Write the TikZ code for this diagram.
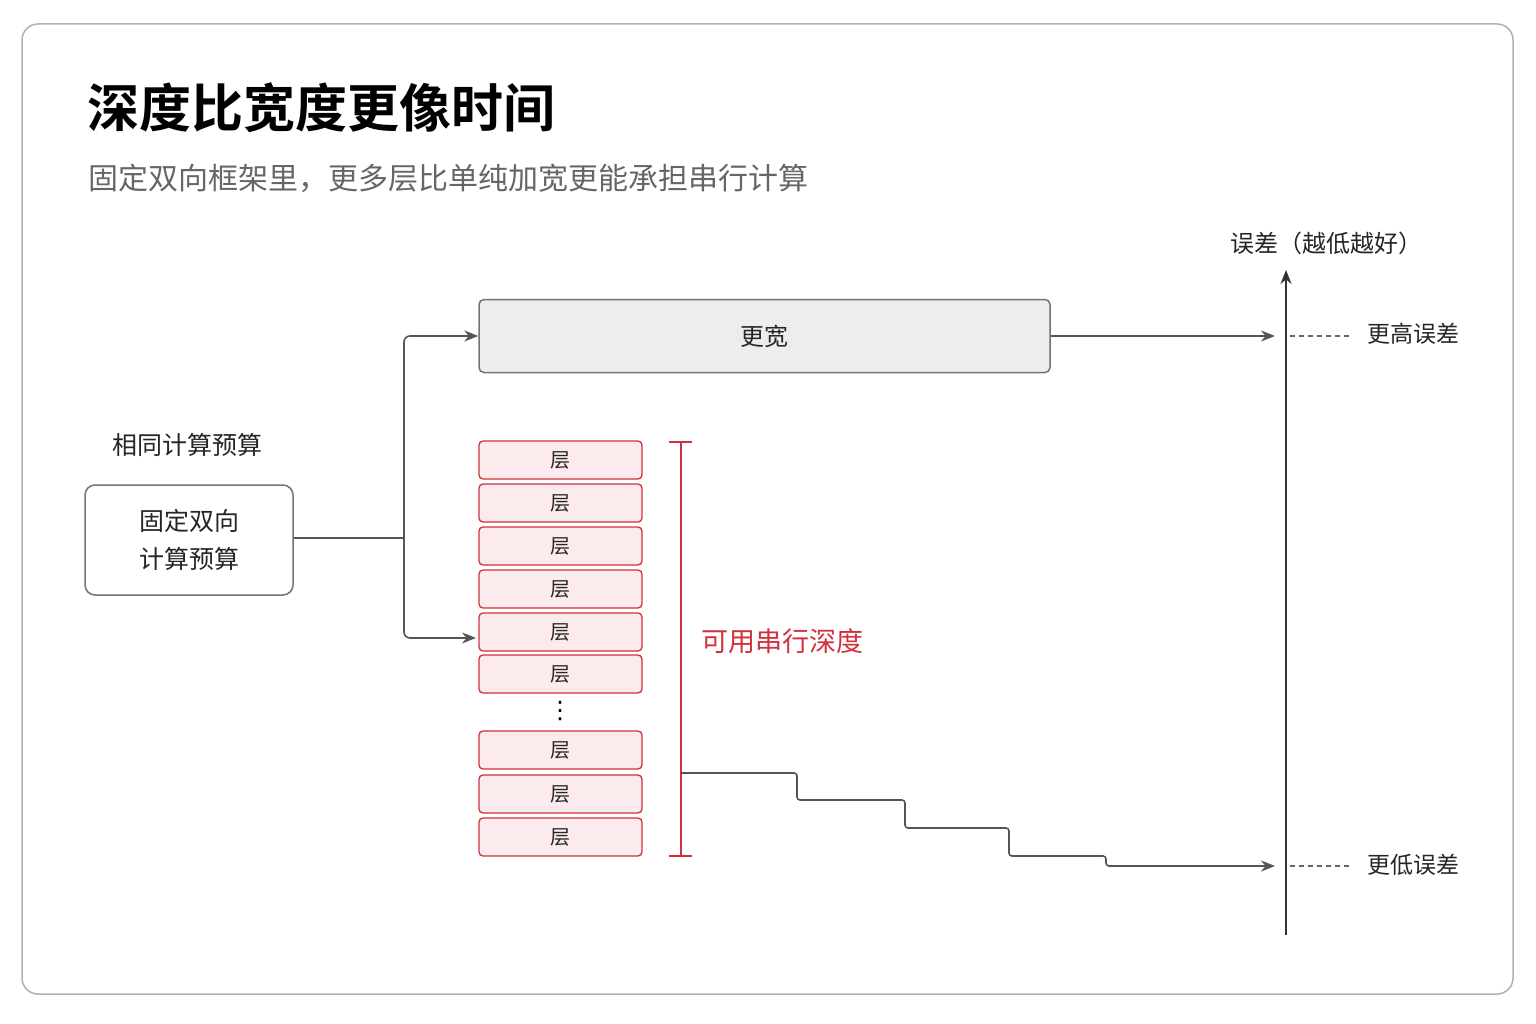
\documentclass[tikz,border=0pt]{standalone}
\usepackage{fontspec}
\setmainfont{Noto Sans CJK SC}
\newfontfamily\cjkb{Noto Sans CJK SC Bold}
\newfontfamily\dejavu{DejaVu Sans}
\usetikzlibrary{arrows.meta}
\definecolor{redc}{HTML}{D0313D}
\definecolor{redf}{HTML}{FBEBEC}
\definecolor{linec}{HTML}{555555}
\tikzset{
 x=1pt,y=-1pt,
 conn/.style={linec,line width=1.6pt,rounded corners=6pt},
 arr/.style={conn,-{Stealth[length=14pt,width=11pt]}},
 layer/.style={draw=redc,fill=redf,line width=1.3pt,rounded corners=4pt,minimum width=163pt,minimum height=38pt,font=\fontsize{20}{22}\selectfont,text=black!85},
 lbl/.style={font=\fontsize{24}{26}\selectfont,text=black!85},
}
\begin{document}
\begin{tikzpicture}
\useasboundingbox (0,0) rectangle (1536,1024);
\fill[white] (0,0) rectangle (1536,1024);
\draw[black!30,line width=1.5pt,fill=white,rounded corners=16pt] (22,24) rectangle (1513,994);
\node[anchor=west,font=\cjkb\fontsize{52}{56}\selectfont] (title) at (84,108) {深度比宽度更像时间};
\node[anchor=west,font=\fontsize{30}{34}\selectfont,text=black!60] (sub) at (85,178) {固定双向框架里，更多层比单纯加宽更能承担串行计算};
\node[lbl,font=\fontsize{25}{28}\selectfont] (same) at (187,445) {相同计算预算};
\node[draw=black!55,line width=1.5pt,rounded corners=10pt,minimum width=208pt,minimum height=110pt,align=center,lbl,font=\fontsize{25}{38}\selectfont] (fix) at (189,540) {固定双向\\计算预算};
\node[draw=black!55,fill=black!7,line width=1.5pt,rounded corners=5pt,minimum width=571pt,minimum height=73pt,lbl] (wide) at (764.5,336) {更宽};
\coordinate (split) at (404,538);
\draw[conn] (fix.east |- split) -- (split);
\draw[arr] (split) -- (404,336) -- (wide.west);
\foreach \n/\y in {1/460,2/503,3/546,4/589,5/632,6/674,7/750,8/794,9/837}
  \node[layer] (L\n) at (560.5,\y) {层};
\node[font=\dejavu\fontsize{24}{24}\selectfont] (dots) at (560,711) {⋮};
\draw[arr] (split) -- (404,638) -- (476,638);
\draw[redc,line width=1.6pt] (681,442) -- (681,856) (669,442) -- (692,442) (669,856) -- (692,856);
\node[font=\fontsize{27}{30}\selectfont,text=redc] (depth) at (782,641) {可用串行深度};
\coordinate (ax0) at (1286,935);
\coordinate (ax1) at (1286,270);
\draw[black!80,line width=2pt,-{Stealth[length=14pt,width=11pt]}] (ax0) -- (ax1);
\node[lbl] (err) at (1326,243) {误差（越低越好）};
\coordinate (hi) at (1275,336);
\coordinate (lo) at (1275,866);
\draw[arr] (wide.east) -- (hi);
\draw[arr,rounded corners=3pt] (681,773) -- (797,773) -- (797,800) -- (905,800) -- (905,828) -- (1009,828) -- (1009,856) -- (1106,856) -- (1106,866) -- (lo);
\draw[black!60,line width=1.2pt,dash pattern=on 5pt off 4pt] (1290,336) -- (1352,336) (1290,866) -- (1352,866);
\node[lbl,font=\fontsize{23}{26}\selectfont] (hit) at (1413,334) {更高误差};
\node[lbl,font=\fontsize{23}{26}\selectfont] (lot) at (1413,865) {更低误差};
\end{tikzpicture}
\end{document}
